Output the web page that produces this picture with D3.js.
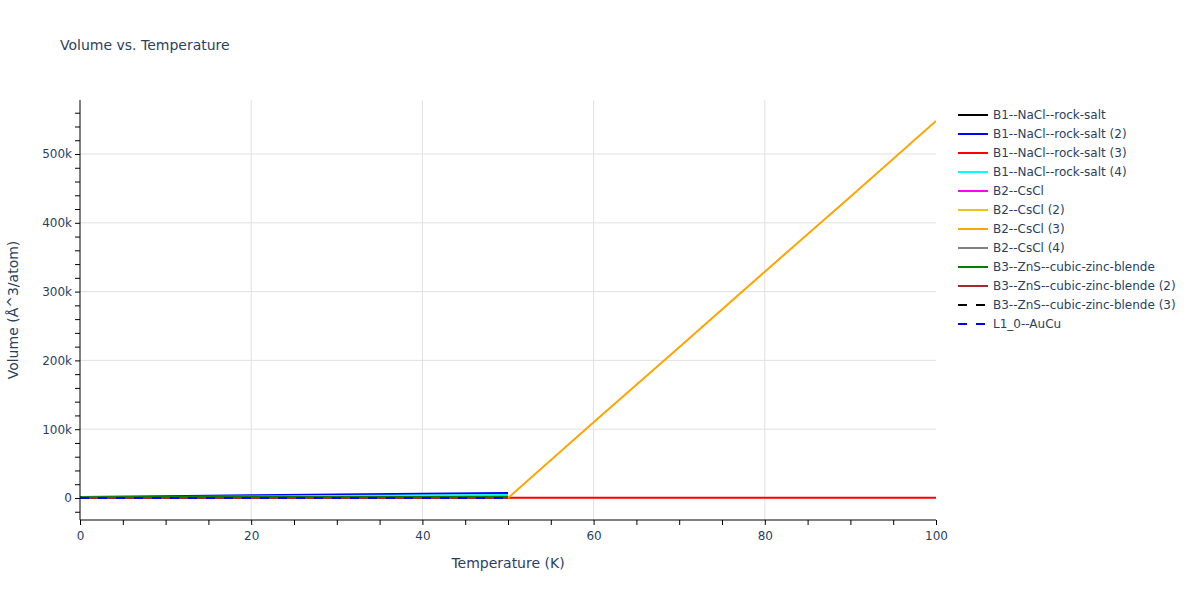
<!DOCTYPE html>
<html><head><meta charset="utf-8">
<script src="https://cdn.jsdelivr.net/npm/d3@7"></script>
<style>body{margin:0;background:#fff;} text{font-family:"DejaVu Sans",Verdana,sans-serif;}</style>
</head><body><svg id="c" width="1200" height="600"></svg>
<script>
const temps = [0,10,20,30,40,50,60,70,80,90,100];
const seriesNames = ["B1--NaCl--rock-salt","B1--NaCl--rock-salt (2)","B1--NaCl--rock-salt (3)","B1--NaCl--rock-salt (4)","B2--CsCl","B2--CsCl (2)","B2--CsCl (3)","B2--CsCl (4)","B3--ZnS--cubic-zinc-blende","B3--ZnS--cubic-zinc-blende (2)","B3--ZnS--cubic-zinc-blende (3)","L1_0--AuCu"];
const seriesColors = ["#000000","#0000ff","#ff0000","#00ffff","#ff00ff","#f0c020","#ffa500","#808080","#008000","#a52a2a","#000000","#0000ff"];
const seriesDashed = [false,false,false,false,false,false,false,false,false,false,true,true];
const v_B1   = [600,700,800,900,1000,1100,null,null,null,null,null];
const v_B1_2 = [1500,2700,3900,5000,6200,7300,null,null,null,null,null];
const v_B1_3 = [300,300,300,300,300,300,300,300,300,300,300];
const v_B1_4 = [900,1600,2300,3000,3700,4400,null,null,null,null,null];
const v_B2   = [200,200,200,200,200,200,null,null,null,null,null];
const v_B2_2 = [250,250,250,250,250,250,null,null,null,null,null];
const v_B2_3 = [null,null,null,null,null,0,110000,219000,329000,438000,548000];
const v_B2_4 = [300,300,300,300,300,300,null,null,null,null,null];
const v_B3   = [1200,1300,1400,1500,1600,1700,null,null,null,null,null];
const v_B3_2 = [100,100,100,100,100,100,null,null,null,null,null];
const v_B3_3 = [50,50,50,50,50,50,null,null,null,null,null];
const v_L10  = [0,0,0,0,0,0,null,null,null,null,null];
const seriesValues = [v_B1,v_B1_2,v_B1_3,v_B1_4,v_B2,v_B2_2,v_B2_3,v_B2_4,v_B3,v_B3_2,v_B3_3,v_L10];
const xTicks = [0,20,40,60,80,100];
const yTicks = [0,100000,200000,300000,400000,500000];
const yTickLabels = ["0","100k","200k","300k","400k","500k"];

const svg = d3.select("#c");
const L=80,R=936,T=100,B=520;
const x = d3.scaleLinear().domain([0,100]).range([L,R]);
const y = d3.scaleLinear().domain([-32000,578500]).range([B,T]);
const txt="#2a3f5f";
const FF='"DejaVu Sans",Verdana,sans-serif';

// grid
svg.append("g").selectAll("line").data(xTicks.slice(1,-1)).join("line")
 .attr("x1",d=>x(d)).attr("x2",d=>x(d)).attr("y1",T).attr("y2",B).attr("stroke","#e1e1e1");
svg.append("g").selectAll("line").data(yTicks).join("line")
 .attr("x1",L).attr("x2",R).attr("y1",d=>y(d)).attr("y2",d=>y(d)).attr("stroke","#e1e1e1");

// lines
svg.append("clipPath").attr("id","cp").append("rect").attr("x",L).attr("y",T).attr("width",R-L).attr("height",B-T);
const line = d3.line().defined(d=>d[1]!=null).x(d=>x(d[0])).y(d=>y(d[1]));
const lg = svg.append("g").attr("clip-path","url(#cp)");
seriesValues.forEach((vals,i)=>{
  lg.append("path").datum(temps.map((t,j)=>[t,vals[j]]))
   .attr("d",line).attr("fill","none").attr("stroke",seriesColors[i]).attr("stroke-width",2)
   .attr("stroke-dasharray",seriesDashed[i]?"9,9":null);
});

// axes
const xAxis = d3.axisBottom(x).tickValues(d3.range(0,101,5)).tickSize(5)
  .tickFormat(d=>xTicks.includes(d)?d:"");
const gx = svg.append("g").attr("transform",`translate(0,${B})`).call(xAxis);
gx.select(".domain").attr("stroke","#000").attr("d",`M${L},0H${R}`);
gx.selectAll(".tick line").attr("stroke","#000");
gx.selectAll(".tick text").attr("fill",txt).attr("font-size",12).attr("dy","1em").attr("font-family",FF);

const yAxis = d3.axisLeft(y).tickValues(d3.range(-20000,578000,20000)).tickSize(5)
  .tickFormat(d=>{const k=yTicks.indexOf(d);return k>=0?yTickLabels[k]:"";});
const gy = svg.append("g").attr("transform",`translate(${L},0)`).call(yAxis);
gy.select(".domain").attr("stroke","#000").attr("d",`M0,${T}V${B}`);
gy.selectAll(".tick line").attr("stroke","#000");
gy.selectAll(".tick text").attr("fill",txt).attr("font-size",12).attr("x",-8).attr("font-family",FF);

// titles
svg.append("text").attr("x",60).attr("y",50).attr("fill",txt).attr("font-size",14).text("Volume vs. Temperature");
svg.append("text").attr("x",(L+R)/2).attr("y",568).attr("text-anchor","middle").attr("fill",txt).attr("font-size",14).text("Temperature (K)");
svg.append("text").attr("transform",`translate(18,${(T+B)/2}) rotate(-90)`).attr("text-anchor","middle").attr("fill",txt).attr("font-size",14).text("Volume (Å^3/atom)");

// legend
const leg = svg.append("g");
seriesNames.forEach((n,i)=>{
  const yy = 115 + i*19;
  leg.append("line").attr("x1",958).attr("x2",988).attr("y1",yy).attr("y2",yy)
    .attr("stroke",seriesColors[i]).attr("stroke-width",2).attr("stroke-dasharray",seriesDashed[i]?"9,9":null);
  leg.append("text").attr("x",993).attr("y",yy+4).attr("fill",txt).attr("font-size",12).text(n);
});
</script></body></html>
